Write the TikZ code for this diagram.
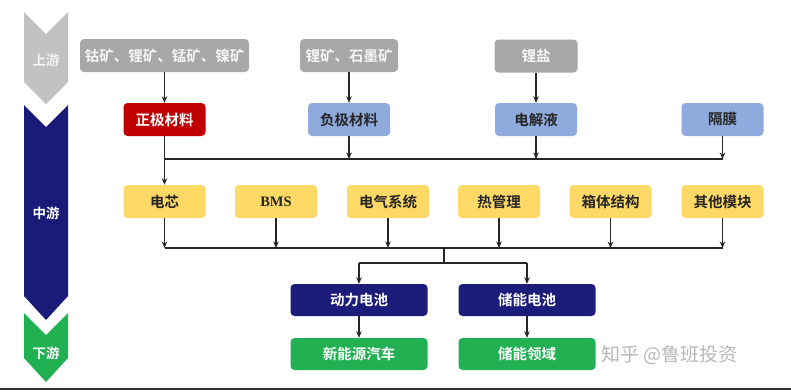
\documentclass[tikz,border=0pt]{standalone}
\usepackage{fontspec}
\setmainfont{Liberation Serif}
\newfontfamily\cjk{Noto Sans CJK SC}
\newfontfamily\cjkb{Noto Sans CJK SC Bold}
\usetikzlibrary{arrows.meta}
\definecolor{chgray}{HTML}{C2C2C2}
\definecolor{chnavy}{HTML}{1A1A78}
\definecolor{chgreen}{HTML}{22B152}
\definecolor{bgray}{HTML}{A8A8A8}
\definecolor{bred}{HTML}{C00000}
\definecolor{bblue}{HTML}{8FAADC}
\definecolor{byellow}{HTML}{FFD966}
\definecolor{bnavy}{HTML}{1C1C7A}
\definecolor{bgreen}{HTML}{22B152}
\tikzset{
  box/.style={rounded corners=4pt, minimum height=33pt, inner sep=0pt, font=\cjkb\fontsize{14.5}{16}\selectfont},
  gbox/.style={box, fill=bgray, text=white!92!gray, font=\cjkb\fontsize{14.5}{16}\selectfont},
  rbox/.style={box, fill=bred, text=white, minimum width=82pt},
  lbbox/.style={box, fill=bblue, text=black!85, minimum width=82pt},
  ybox/.style={box, fill=byellow, text=black!85, minimum width=82pt},
  nbox/.style={box, fill=bnavy, text=white, minimum width=137pt, minimum height=32pt},
  grbox/.style={box, fill=bgreen, text=white, minimum width=137pt, minimum height=32pt},
  conn/.style={line width=1.3pt, black!85},
  arr/.style={conn, -{Stealth[length=6.5pt,width=5.5pt]}},
  chlabel/.style={text=white, font=\cjkb\fontsize{13.5}{15}\selectfont}
}
\begin{document}
\begin{tikzpicture}[x=1pt,y=-1pt]
\useasboundingbox (0,0) rectangle (791,391);
\fill[white] (0,0) rectangle (791,391);
% chevrons
\fill[chgray] (24,12) -- (46,34) -- (68,12) -- (68,82) -- (46,104) -- (24,82) -- cycle;
\fill[chnavy] (24,105) -- (46,127) -- (68,105) -- (68,296) -- (46,320) -- (24,296) -- cycle;
\fill[chgreen] (24,313) -- (46,335) -- (68,313) -- (68,358) -- (46,382) -- (24,358) -- cycle;
\node[chlabel, text=white!90!gray] (lu) at (46,60) {上游};
\node[chlabel] (lm) at (46,213) {中游};
\node[chlabel] (ld) at (46,353) {下游};
% upstream
\node[gbox, minimum width=169pt] (u1) at (164.5,55.5) {钴矿、锂矿、锰矿、镍矿};
\node[gbox, minimum width=98pt] (u2) at (349,55.5) {锂矿、石墨矿};
\node[gbox, minimum width=83pt] (u3) at (536,56) {锂盐};
% midstream materials
\node[rbox] (m1) at (164.5,119.5) {正极材料};
\node[lbbox] (m2) at (349,119.5) {负极材料};
\node[lbbox] (m3) at (536,119.5) {电解液};
\node[lbbox] (m4) at (722.5,119.5) {隔膜};
% components
\node[ybox] (c1) at (164.5,201.5) {电芯};
\node[ybox, font=\bfseries\fontsize{14.5}{16}\selectfont] (c2) at (276,201.5) {BMS};
\node[ybox] (c3) at (388,201.5) {电气系统};
\node[ybox] (c4) at (499,201.5) {热管理};
\node[ybox] (c5) at (610.5,201.5) {箱体结构};
\node[ybox] (c6) at (722.5,201.5) {其他模块};
% batteries
\node[nbox] (b1) at (359,300) {动力电池};
\node[nbox] (b2) at (527,300) {储能电池};
\node[grbox] (a1) at (359,354) {新能源汽车};
\node[grbox] (a2) at (527,354) {储能领域};
% watermark
\node[text=black!28, font=\cjk\fontsize{19}{21}\selectfont, anchor=west] (wm) at (598,355) {知乎 @鲁班投资};
% bottom rule
\draw[line width=2pt, black!80] (0,389) -- (791,389);
% coordinates
\coordinate (bus1) at (0,159);
\coordinate (bus2) at (0,248);
\coordinate (split) at (444,263);
% connectors upstream
\draw[arr] (u1) -- (m1);
\draw[arr] (u2) -- (m2);
\draw[arr] (u3) -- (m3);
% bus 1
\draw[conn] (m1.south |- bus1) -- (m4.south |- bus1);
\draw[arr] (m2.south) -- (m2.south |- bus1);
\draw[arr] (m3.south) -- (m3.south |- bus1);
\draw[arr] (m4.south) -- (m4.south |- bus1);
\draw[arr] (m1) -- (c1);
% bus 2
\draw[conn] (c1.south |- bus2) -- (c6.south |- bus2);
\foreach \n in {c1,c2,c3,c4,c5,c6}{
  \draw[arr] (\n.south) -- (\n.south |- bus2);
}
\draw[conn] (split |- bus2) -- (split);
\draw[conn] (b1.north |- split) -- (b2.north |- split);
\draw[arr] (b1.north |- split) -- (b1.north);
\draw[arr] (b2.north |- split) -- (b2.north);
\draw[arr] (b1) -- (a1);
\draw[arr] (b2) -- (a2);
\end{tikzpicture}
\end{document}
